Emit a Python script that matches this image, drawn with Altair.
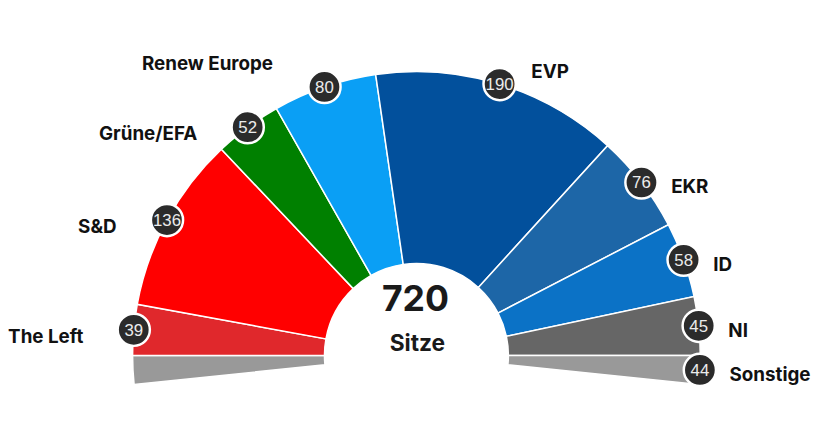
import math
import altair as alt
import pandas as pd

# ---- data ----
parties = ["The Left", "S&D", "Grüne/EFA", "Renew Europe", "EVP", "EKR", "ID", "NI", "Sonstige"]
seats = [39, 136, 52, 80, 190, 76, 58, 45, 44]
colors = ["#e0282c", "#ff0000", "#008000", "#0a9ff5", "#02509c", "#1d66a7", "#0b72c6", "#666666", "#999999"]
center_label = "Sitze"

# ---- geometry derived from data ----
total = sum(seats)
other = seats[-1]
per_seat = math.pi / (total - other)   # the semicircle holds all but "Sonstige"
half = other / 2                         # "Sonstige" is split below both ends

slices = []
t = -math.pi / 2 - half * per_seat
slices.append({"party": parties[-1], "t0": t, "t1": t + half * per_seat})
t += half * per_seat
label_rows = []
for p, s in zip(parties[:-1], seats[:-1]):
    slices.append({"party": p, "t0": t, "t1": t + s * per_seat})
    label_rows.append({"party": p, "seats": s, "mid": t + s * per_seat / 2})
    t += s * per_seat
slices.append({"party": parties[-1], "t0": t, "t1": t + half * per_seat})
label_rows.append({"party": parties[-1], "seats": other, "mid": t + half * per_seat / 2})

slice_df = pd.DataFrame(slices)
label_df = pd.DataFrame(label_rows)

W, H = 804, 418
R_OUT, R_IN = 287, 93
CX, CY = 404, 349
xscale = alt.Scale(domain=[-CX / R_OUT, (W - CX) / R_OUT], nice=False, zero=False)
yscale = alt.Scale(domain=[-(H - CY) / R_OUT, CY / R_OUT], nice=False, zero=False)
color = alt.Color("party:N", scale=alt.Scale(domain=parties, range=colors), legend=None)

arcs = alt.Chart(slice_df).mark_arc(stroke="white", strokeWidth=1.5).encode(
    x=alt.X(datum=0, type="quantitative", scale=xscale, axis=None),
    y=alt.Y(datum=0, type="quantitative", scale=yscale, axis=None),
    theta=alt.Theta("t0:Q", scale=None),
    theta2="t1:Q",
    radius=alt.value(R_OUT),
    radius2=alt.value(R_IN),
    color=color,
)

pos = alt.Chart(label_df).transform_calculate(
    px="sin(datum.mid)", py="cos(datum.mid)"
)
enc = dict(
    x=alt.X("px:Q", scale=xscale, axis=None),
    y=alt.Y("py:Q", scale=yscale, axis=None),
)

dots = pos.mark_circle(size=1060, color="#2b2b2b", opacity=1, stroke="white", strokeWidth=2.5).encode(**enc)
nums = pos.mark_text(font="Liberation Sans", fontSize=17, color="#ececec", baseline="middle", dy=1).encode(
    text="seats:Q", **enc
)

lab_font = dict(font="Inter", fontSize=19, fontWeight="bold", color="#111111", baseline="middle")

def names(members, **kw):
    return pos.transform_filter(
        alt.FieldOneOfPredicate(field="party", oneOf=members)
    ).mark_text(**lab_font, **kw).encode(text="party:N", **enc)

left_labels = names(["The Left", "S&D", "Grüne/EFA"], align="right", dx=-51, dy=7)
renew_label = names(["Renew Europe"], align="right", dx=-52, dy=-23)
evp_label = names(["EVP"], align="left", dx=32, dy=-12)
right_labels = names(["EKR", "ID", "NI", "Sonstige"], align="left", dx=30, dy=5)

center = alt.Chart(pd.DataFrame({"total": [total], "label": [center_label]}))
total_text = center.mark_text(font="Inter", fontSize=36, fontWeight="bold", color="#1a1a1a",
                              baseline="middle", dy=-56, dx=-1).encode(
    x=alt.X(datum=0, type="quantitative", scale=xscale, axis=None),
    y=alt.Y(datum=0, type="quantitative", scale=yscale, axis=None),
    text="total:Q",
)
sitze_text = center.mark_text(font="Inter", fontSize=23, fontWeight="bold", color="#1a1a1a",
                              baseline="middle", dy=-12, dx=1).encode(
    x=alt.X(datum=0, type="quantitative", scale=xscale, axis=None),
    y=alt.Y(datum=0, type="quantitative", scale=yscale, axis=None),
    text="label:N",
)

chart = alt.layer(
    arcs, dots, nums, left_labels, renew_label, evp_label, right_labels, total_text, sitze_text
).properties(width=W, height=H, padding=0).configure_view(stroke=None)

chart.save("out.html", embed_options={"renderer": "svg", "actions": False})
